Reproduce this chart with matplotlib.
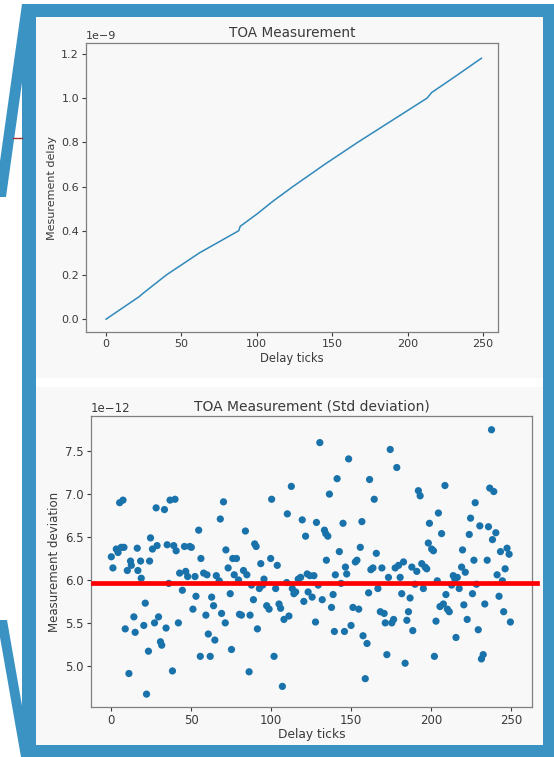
import numpy as np
import matplotlib
matplotlib.use("Agg")
import matplotlib.pyplot as plt
from matplotlib.patches import Rectangle, Polygon

# --- data ---
line_ticks = [0, 22, 24, 40, 62, 88, 89, 100, 111, 124, 145, 167, 190, 213, 216, 230, 249]
line_delay = np.array([0, 0.102, 0.114, 0.20, 0.30, 0.40, 0.42, 0.475, 0.535, 0.60,
                       0.70, 0.80, 0.90, 1.00, 1.025, 1.09, 1.18]) * 1e-9

dev_ticks = [0.2, 1.2, 3.3, 4.4, 5.4, 6.4, 7.5, 8.1, 8.9, 10.2, 11.2, 12.2, 12.7, 14.3, 15.1,
             16.4, 16.8, 18.5, 18.9, 20.5, 21.4, 22.2, 23.4, 24.1, 24.7, 25.9, 27.2, 28.2, 28.8,
             29.7, 30.9, 31.7, 33.4, 34.4, 35.1, 36.1, 36.9, 38.4, 39.2, 40.0, 40.7, 42.1, 42.9,
             44.6, 45.9, 46.7, 47.9, 49.2, 50.2, 51.2, 52.5, 53.1, 54.8, 55.8, 56.2, 57.9, 59.3,
             60.0, 60.8, 62.0, 62.9, 64.1, 64.9, 65.8, 67.6, 68.3, 69.1, 70.3, 71.4, 71.8, 73.2,
             74.5, 75.3, 76.1, 77.0, 78.4, 79.7, 80.3, 81.5, 82.8, 84.0, 84.9, 86.3, 86.9, 87.8,
             89.0, 89.8, 90.7, 91.5, 92.7, 93.6, 94.8, 95.6, 97.3, 98.8, 99.8, 100.4, 101.9,
             102.9, 103.9, 105.0, 106.0, 107.1, 108.1, 109.8, 110.2, 111.2, 112.7, 113.3, 114.3,
             115.4, 117.0, 118.5, 119.5, 120.5, 121.6, 122.6, 123.2, 124.3, 125.7, 126.8, 127.8,
             128.4, 129.5, 130.5, 132.0, 133.4, 134.2, 134.6, 135.5, 136.5, 137.8, 138.8, 139.6,
             140.2, 141.3, 142.7, 143.8, 145.0, 145.9, 146.5, 147.3, 148.5, 150.0, 151.2, 152.7,
             153.7, 154.8, 155.8, 156.8, 157.5, 158.9, 160.0, 161.0, 161.6, 162.4, 163.7, 164.5,
             165.8, 166.8, 168.3, 169.3, 170.7, 171.4, 172.4, 173.4, 174.5, 175.5, 176.6, 177.6,
             178.6, 179.7, 180.7, 181.7, 182.8, 183.8, 184.9, 185.9, 186.9, 188.0, 188.6, 190.0,
             191.1, 192.1, 193.2, 194.2, 195.2, 196.3, 197.3, 198.3, 199.0, 200.4, 201.5, 202.1,
             203.1, 203.9, 204.6, 205.6, 206.6, 207.7, 208.7, 209.3, 210.2, 211.4, 212.9, 213.9,
             214.9, 215.6, 216.4, 217.6, 219.1, 219.7, 220.5, 221.4, 222.6, 223.9, 224.7, 225.9,
             226.8, 227.6, 228.4, 229.5, 230.5, 231.5, 232.6, 233.6, 235.1, 235.9, 236.7, 237.8,
             238.4, 239.2, 240.5, 241.3, 242.5, 243.4, 244.6, 245.4, 246.3, 247.5, 248.8, 249.6]
dev_values = np.array([
    6.27, 6.14, 6.36, 6.32, 6.90, 6.38, 6.93, 6.38, 5.43, 6.11, 4.91, 6.22, 6.17, 5.57, 5.39,
    6.37, 6.11, 6.22, 6.02, 5.47, 5.73, 4.67, 5.17, 6.22, 6.49, 6.36, 5.50, 6.84, 6.40,
    5.57, 5.28, 5.24, 6.82, 5.44, 6.41, 5.96, 6.93, 4.94, 6.40, 6.94, 6.34, 5.50, 6.08,
    5.88, 6.39, 6.10, 6.04, 6.39, 6.38, 5.66, 6.04, 5.81, 6.58, 5.11, 6.25, 6.08, 5.59,
    6.06, 5.37, 5.11, 5.80, 5.70, 5.30, 6.05, 5.99, 6.71, 5.61, 6.91, 5.50, 6.35, 6.14,
    5.84, 5.19, 6.25, 6.06, 6.25, 6.00, 5.60, 5.59, 6.11, 6.57, 6.06, 4.93, 5.59, 5.94,
    5.77, 6.42, 6.39, 5.43, 5.90, 6.19, 5.94, 6.01, 5.70, 5.66, 6.25, 6.94, 5.11,
    5.90, 6.17, 5.72, 5.67, 4.76, 5.54, 5.97, 6.77, 5.58, 7.09, 5.90, 5.84,
    5.86, 6.01, 6.03, 6.70, 5.75, 6.51, 6.07, 5.86, 6.05, 5.80, 6.05, 5.51,
    6.67, 5.94, 7.60, 5.77, 6.58, 6.54, 6.23, 6.51, 7.00, 5.68, 5.83, 5.40,
    6.06, 7.18, 6.33, 5.96, 6.66, 5.40, 6.15, 6.07, 7.41, 5.47, 5.68, 6.21,
    6.23, 5.66, 6.38, 6.68, 5.35, 4.85, 5.26, 5.85, 7.17, 6.12, 6.14, 6.94,
    6.31, 5.90, 5.63, 6.14, 5.61, 5.50, 5.13, 6.03, 7.52, 5.50, 5.54, 6.14,
    7.31, 6.17, 6.03, 5.84, 6.21, 5.03, 5.53, 5.63, 5.79, 6.15, 5.41, 5.95,
    6.10, 7.04, 6.98, 6.19, 5.90, 6.15, 6.13, 6.43, 6.66, 6.36, 6.34, 5.11,
    5.52, 5.99, 6.78, 5.69, 6.54, 5.72, 7.10, 5.83, 5.66, 5.63, 5.94, 6.05,
    6.01, 5.33, 6.03, 5.90, 6.15, 6.35, 5.71, 6.09, 5.54, 6.53, 6.72, 5.84,
    6.23, 6.90, 5.95, 5.42, 6.63, 5.08, 5.13, 5.72, 6.23, 6.62, 7.07, 7.75,
    6.47, 7.03, 6.55, 6.06, 5.81, 6.33, 5.99, 5.63, 6.13, 6.37, 6.30, 5.51]) * 1e-12
mean_dev = 5.96e-12

W, H = 554, 757
BLUE = '#3b93c3'
PANEL = '#f8f8f8'
TXT = '#3a3a3a'


def fx(x):
    return x / W


def fy(y):
    return 1 - y / H


fig = plt.figure(figsize=(W / 100, H / 100), dpi=100)
fig.patch.set_facecolor('white')

# slide frame (drawn behind the axes)
fig.patches.append(Rectangle((fx(22), 0), 1 - fx(22), fy(4), transform=fig.transFigure,
                             facecolor=BLUE, edgecolor='none', zorder=-10))
for pts in ([(22, 4), (33, 4), (6, 197), (-5, 197)],
            [(-3, 620), (7, 620), (31, 757), (21, 757)]):
    fig.patches.append(Polygon([(fx(a), fy(b)) for a, b in pts], closed=True,
                               transform=fig.transFigure, facecolor=BLUE,
                               edgecolor='none', zorder=-10))
fig.patches.append(Rectangle((fx(36), fy(745)), fx(543) - fx(36), fy(17) - fy(745),
                             transform=fig.transFigure, facecolor='white',
                             edgecolor='none', zorder=-9))
for top, bot in ((17, 378), (387, 745)):
    fig.patches.append(Rectangle((fx(36), fy(bot)), fx(543) - fx(36), fy(top) - fy(bot),
                                 transform=fig.transFigure, facecolor=PANEL,
                                 edgecolor='none', zorder=-8))
fig.lines.append(plt.Line2D([fx(13), fx(22)], [fy(138), fy(138)], transform=fig.transFigure,
                            color='#a83030', lw=1.0, zorder=-8))

# --- top: TOA measurement ---
ax1 = fig.add_axes([fx(86), fy(332), fx(498) - fx(86), fy(43) - fy(332)])
ax1.plot(line_ticks, line_delay, color='#3089bb', lw=1.1)
ax1.set_xlim(-13.3, 260)
ax1.set_ylim(-0.058e-9, 1.249e-9)
ax1.set_title("TOA Measurement", fontsize=9.8, color=TXT, pad=4)
ax1.set_xlabel("Delay ticks", fontsize=8.3, color=TXT, labelpad=2)
ax1.set_ylabel("Mesurement delay", fontsize=8.0, color=TXT, labelpad=3)

# --- bottom: std deviation ---
ax2 = fig.add_axes([fx(91), fy(707), fx(532) - fx(91), fy(416) - fy(707)])
ax2.scatter(dev_ticks, dev_values, s=27, color='#1a72aa', edgecolors='none')
ax2.set_xlim(-12.5, 263.1)
ax2.set_ylim(4.52e-12, 7.91e-12)
ax2.set_title("TOA Measurement (Std deviation)", fontsize=10, color=TXT, pad=4)
ax2.set_xlabel("Delay ticks", fontsize=8.8, color=TXT, labelpad=1)
ax2.set_ylabel("Measurement deviation", fontsize=8.5, color=TXT, labelpad=3)
ax2.axhline(mean_dev, xmin=0.005, xmax=1.011, color='#ff0000', lw=3.4, clip_on=False, zorder=5)

for ax, fs in ((ax1, 8.0), (ax2, 8.5)):
    ax.set_zorder(2)
    ax.set_facecolor(PANEL)
    ax.set_xticks([0, 50, 100, 150, 200, 250])
    ax.tick_params(labelsize=fs, colors=TXT, length=3, width=0.8, pad=2)
    ax.yaxis.get_offset_text().set_fontsize(fs)
    ax.yaxis.get_offset_text().set_color(TXT)
    for sp in ax.spines.values():
        sp.set_color('#808080')
        sp.set_linewidth(0.9)

fig.savefig('out.png', dpi=100)
